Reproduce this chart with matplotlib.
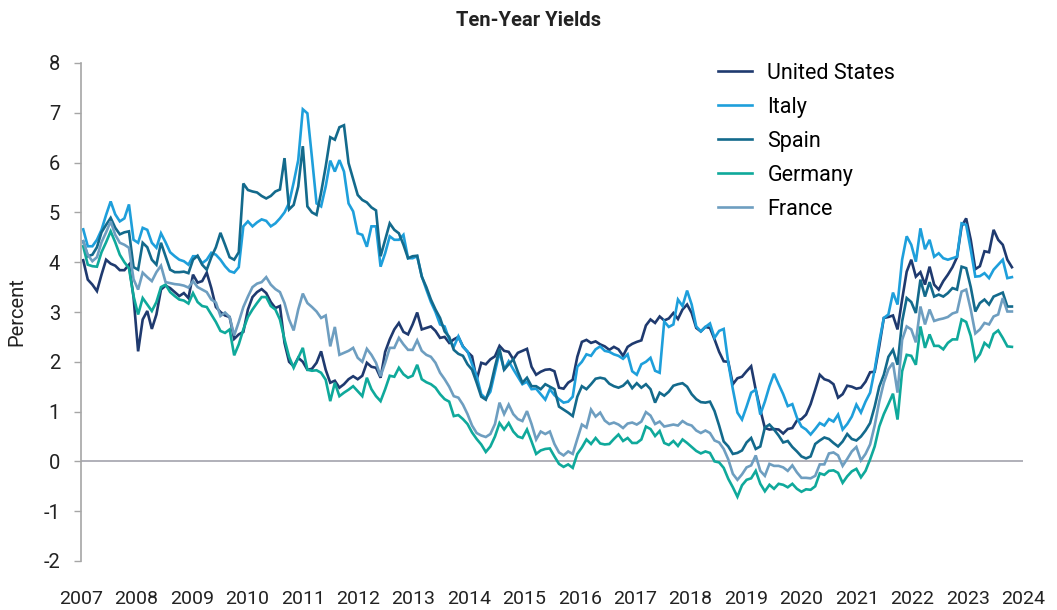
import numpy as np
import matplotlib
matplotlib.use("Agg")
import matplotlib.pyplot as plt

# monthly ten-year yields (percent)
us = [4.04, 3.65, 3.55, 3.42, 3.75, 4.05, 3.97, 3.93, 3.84, 3.84, 3.95, 3.3, 2.21, 2.85, 3.02, 2.66, 2.95, 3.45, 3.53, 3.48,
      3.4, 3.32, 3.38, 3.28, 3.75, 3.59, 3.62, 3.79, 3.48, 3.1, 3.0, 2.93, 2.9, 2.46, 2.55,
      2.6, 3.05, 3.3, 3.4, 3.46, 3.38, 3.2, 3.08, 3.12, 2.38, 2.0, 1.91, 2.08, 2.0, 1.84, 1.86, 1.98, 2.21, 1.84, 1.58,
      1.62, 1.48, 1.55, 1.65, 1.71, 1.65, 1.72, 1.98, 1.9, 1.88, 1.68, 2.2, 2.45, 2.65,
      2.78, 2.6, 2.55, 2.75, 2.99, 2.65, 2.68, 2.71, 2.62, 2.48, 2.5, 2.38, 2.45, 2.5, 2.31, 2.2, 2.11, 1.64, 1.98, 1.95,
      2.05, 2.11, 2.32, 2.22, 2.2, 2.05, 2.18, 2.22, 2.26, 1.9, 1.74, 1.8, 1.84, 1.85,
      1.81, 1.48, 1.46, 1.58, 1.64, 2.1, 2.4, 2.44, 2.38, 2.41, 2.35, 2.31, 2.24, 2.3, 2.25, 2.12, 2.3, 2.36, 2.4, 2.43,
      2.73, 2.85, 2.78, 2.91, 2.83, 2.87, 2.98, 2.86, 3.05, 3.15, 2.98, 2.68, 2.61, 2.7,
      2.68, 2.45, 2.2, 2.01, 2.0, 1.55, 1.67, 1.7, 1.81, 1.91, 1.44, 1.04, 0.67, 0.64, 0.65, 0.64, 0.56, 0.65, 0.67, 0.82,
      0.85, 0.94, 1.15, 1.44, 1.74, 1.65, 1.62, 1.55, 1.28, 1.35, 1.52, 1.5, 1.46, 1.48,
      1.6, 1.79, 1.8, 2.31, 2.88, 2.9, 2.93, 2.65, 3.25, 3.81, 4.05, 3.71, 3.8, 3.55, 3.91, 3.55, 3.45, 3.62, 3.75, 3.9,
      4.1, 4.72, 4.88, 4.45, 3.86, 3.92, 4.22, 4.2, 4.65, 4.45, 4.35, 4.05, 3.9]

italy = [4.66, 4.32, 4.32, 4.45, 4.65, 4.95, 5.22, 4.96, 4.82, 4.88, 5.16, 4.45, 4.39, 4.69, 4.65, 4.39, 4.29, 4.58, 4.4, 4.2,
         4.12, 4.05, 4.02, 3.95, 4.12, 4.12, 3.98, 4.05, 4.19, 4.15, 4.05, 3.92, 3.82, 3.79, 3.9,
         4.72, 4.82, 4.72, 4.8, 4.86, 4.83, 4.72, 4.78, 4.88, 5.0, 5.19, 5.6, 6.05, 7.07, 6.99, 6.1, 5.18, 5.12, 5.52, 6.04,
         5.82, 6.05, 5.82, 5.18, 5.02, 4.58, 4.55, 4.31, 4.72, 4.72, 3.91, 4.18, 4.52, 4.45,
         4.45, 4.55, 4.08, 4.08, 4.12, 3.72, 3.45, 3.2, 3.0, 2.75, 2.71, 2.45, 2.3, 2.51, 2.3, 2.21, 1.95, 1.71, 1.35, 1.26,
         1.4, 1.8, 2.2, 1.84, 2.01, 1.85, 1.7, 1.55, 1.6, 1.45, 1.46, 1.35, 1.24, 1.45,
         1.33, 1.25, 1.18, 1.2, 1.3, 1.9, 2.0, 2.15, 2.12, 2.25, 2.31, 2.22, 2.2, 2.15, 2.12, 2.06, 2.15, 1.81, 1.74, 1.95,
         2.0, 2.08, 1.82, 1.78, 2.81, 2.7, 2.75, 3.25, 3.12, 3.43, 3.15, 2.71, 2.61, 2.7,
         2.77, 2.48, 2.62, 2.66, 1.98, 1.45, 0.98, 0.84, 1.1, 1.38, 1.44, 0.94, 1.2, 1.51, 1.76, 1.55, 1.35, 1.11, 1.15, 0.88,
         0.7, 0.64, 0.54, 0.65, 0.77, 0.72, 0.85, 0.8, 0.94, 0.64, 0.75, 0.9, 1.14, 0.98,
         1.2, 1.38, 1.84, 2.4, 2.88, 2.95, 3.39, 3.15, 4.05, 4.52, 4.35, 4.01, 4.68, 4.26, 4.45, 4.11, 4.18, 4.08, 4.05, 4.08,
         4.11, 4.78, 4.75, 4.25, 3.71, 3.72, 3.78, 3.68, 3.85, 3.95, 4.05, 3.68, 3.7]

spain = [4.42, 4.12, 4.15, 4.3, 4.6, 4.75, 4.89, 4.69, 4.56, 4.6, 4.62, 3.9, 3.85, 4.39, 4.3, 4.05, 3.95, 4.39, 4.12, 3.85,
         3.8, 3.8, 3.81, 3.78, 4.05, 4.13, 3.95, 3.85, 4.1, 4.3, 4.59, 4.35, 4.1, 4.05, 4.2,
         5.58, 5.45, 5.42, 5.4, 5.33, 5.28, 5.33, 5.42, 5.46, 6.09, 5.06, 5.15, 5.52, 6.33, 5.12, 5.0, 4.95, 5.4, 5.92, 6.51,
         6.46, 6.71, 6.75, 5.99, 5.67, 5.35, 5.25, 5.2, 5.1, 5.04, 4.12, 4.45, 4.78, 4.65,
         4.58, 4.35, 4.08, 4.12, 4.13, 3.71, 3.5, 3.25, 3.05, 2.88, 2.61, 2.5, 2.24, 2.16, 2.12, 1.95, 1.84, 1.58, 1.3, 1.24,
         1.5, 1.9, 2.26, 1.84, 1.95, 2.05, 1.8, 1.58, 1.68, 1.51, 1.51, 1.45, 1.55, 1.5,
         1.45, 1.1, 1.04, 0.98, 0.91, 1.3, 1.51, 1.45, 1.55, 1.66, 1.68, 1.66, 1.56, 1.51, 1.48, 1.52, 1.61, 1.47, 1.57, 1.48,
         1.55, 1.45, 1.18, 1.38, 1.32, 1.4, 1.52, 1.55, 1.57, 1.5, 1.35, 1.25, 1.19, 1.18,
         1.2, 1.01, 0.72, 0.4, 0.3, 0.15, 0.17, 0.22, 0.38, 0.47, 0.25, 0.3, 0.68, 0.74, 0.64, 0.52, 0.38, 0.41, 0.29, 0.2,
         0.1, 0.06, 0.1, 0.35, 0.42, 0.48, 0.45, 0.37, 0.3, 0.4, 0.55, 0.45, 0.42, 0.5,
         0.62, 0.77, 1.1, 1.5, 1.74, 2.1, 2.24, 1.94, 2.81, 3.28, 3.2, 2.98, 3.65, 3.31, 3.6, 3.31, 3.35, 3.31, 3.38, 3.48,
         3.45, 3.91, 3.88, 3.5, 3.01, 3.18, 3.25, 3.15, 3.31, 3.35, 3.39, 3.11, 3.11]

germany = [4.32, 3.95, 3.92, 3.91, 4.2, 4.4, 4.62, 4.4, 4.15, 4.0, 3.88, 3.32, 2.95, 3.28, 3.15, 3.02, 3.2, 3.5, 3.55, 3.4,
           3.32, 3.25, 3.23, 3.17, 3.38, 3.2, 3.12, 3.1, 2.95, 2.8, 2.62, 2.58, 2.65, 2.13, 2.35,
           2.65, 2.9, 3.05, 3.18, 3.3, 3.3, 3.12, 3.05, 2.85, 2.45, 2.1, 1.88, 2.08, 2.28, 1.84, 1.82, 1.83, 1.78, 1.64, 1.21,
           1.58, 1.31, 1.38, 1.44, 1.51, 1.41, 1.31, 1.68, 1.45, 1.31, 1.21, 1.45, 1.72, 1.7,
           1.88, 1.75, 1.68, 1.72, 1.94, 1.65, 1.59, 1.55, 1.48, 1.35, 1.25, 1.2, 0.91, 0.93, 0.85, 0.75, 0.58, 0.45, 0.34, 0.19,
           0.3, 0.5, 0.77, 0.64, 0.77, 0.6, 0.5, 0.47, 0.64, 0.4, 0.15, 0.22, 0.25, 0.26,
           0.1, -0.05, -0.11, -0.06, -0.13, 0.15, 0.28, 0.44, 0.35, 0.47, 0.36, 0.34, 0.35, 0.45, 0.54, 0.41, 0.47, 0.37, 0.37, 0.44,
           0.7, 0.65, 0.51, 0.61, 0.37, 0.33, 0.41, 0.31, 0.44, 0.37, 0.29, 0.21, 0.16, 0.2,
           0.17, 0.0, -0.02, -0.13, -0.35, -0.52, -0.71, -0.48, -0.37, -0.34, -0.19, -0.45, -0.6, -0.47, -0.55, -0.45, -0.47, -0.52, -0.45, -0.55,
           -0.61, -0.56, -0.57, -0.5, -0.24, -0.27, -0.19, -0.18, -0.23, -0.43, -0.3, -0.2, -0.15, -0.32,
           -0.19, 0.04, 0.3, 0.7, 0.95, 1.15, 1.36, 0.84, 1.81, 2.14, 2.12, 1.94, 2.71, 2.28, 2.55, 2.32, 2.32, 2.25, 2.38, 2.45,
           2.45, 2.85, 2.8, 2.52, 2.03, 2.15, 2.38, 2.3, 2.56, 2.63, 2.48, 2.31, 2.3]

france = [4.42, 4.15, 4.02, 4.1, 4.4, 4.6, 4.82, 4.55, 4.39, 4.35, 4.29, 3.66, 3.45, 3.79, 3.7, 3.62, 3.8, 3.93, 3.6, 3.58,
          3.56, 3.55, 3.53, 3.49, 3.62, 3.5, 3.45, 3.4, 3.25, 3.19, 2.92, 2.99, 2.9, 2.53, 2.8,
          3.1, 3.31, 3.5, 3.57, 3.6, 3.7, 3.55, 3.46, 3.4, 3.18, 2.85, 2.63, 3.05, 3.37, 3.18, 3.1, 3.01, 2.88, 2.93, 2.31,
          2.7, 2.14, 2.18, 2.22, 2.28, 2.08, 2.0, 2.26, 2.14, 1.98, 1.71, 1.98, 2.28, 2.28,
          2.48, 2.35, 2.24, 2.24, 2.43, 2.22, 2.14, 2.1, 1.98, 1.78, 1.65, 1.5, 1.31, 1.28, 1.14, 0.95, 0.72, 0.57, 0.52, 0.49,
          0.55, 0.75, 1.18, 0.95, 1.14, 0.95, 0.85, 0.81, 1.01, 0.75, 0.44, 0.6, 0.55, 0.6,
          0.35, 0.18, 0.12, 0.2, 0.15, 0.45, 0.74, 0.68, 1.04, 0.9, 0.98, 0.82, 0.75, 0.78, 0.74, 0.67, 0.76, 0.78, 0.74, 0.8,
          0.99, 0.92, 0.75, 0.8, 0.7, 0.72, 0.74, 0.72, 0.81, 0.75, 0.72, 0.62, 0.57, 0.62,
          0.57, 0.42, 0.38, 0.25, 0.04, -0.25, -0.37, -0.26, -0.12, -0.08, 0.12, -0.19, -0.29, -0.05, -0.09, -0.09, -0.12, -0.19, -0.08, -0.22,
          -0.33, -0.33, -0.34, -0.29, -0.06, -0.06, 0.16, 0.18, 0.12, -0.09, 0.05, 0.2, 0.29, 0.02,
          0.15, 0.34, 0.72, 1.2, 1.58, 1.85, 1.98, 1.38, 2.44, 2.71, 2.65, 2.39, 3.11, 2.75, 3.05, 2.82, 2.85, 2.87, 2.9, 2.97,
          3.0, 3.41, 3.45, 3.05, 2.57, 2.65, 2.78, 2.75, 2.91, 2.95, 3.28, 3.01, 3.01]

years = list(range(2007, 2025))

series = [
    ("United States", us, "#1f3a6f"),
    ("Italy", italy, "#1e9fdb"),
    ("Spain", spain, "#136a8c"),
    ("Germany", germany, "#0fa99b"),
    ("France", france, "#6e9ec0"),
]

plt.rcParams["font.family"] = ["Roboto", "DejaVu Sans"]
plt.rcParams["axes.unicode_minus"] = False

# months placed on a fractional-year axis
months = np.arange(len(us))
x = 2007.04 + months * (16.76 / (len(us) - 1))

fig = plt.figure(figsize=(10.57, 6.10), dpi=100)
ax = fig.add_axes([81 / 1057, 1 - 561 / 610, 942 / 1057, 498 / 610])

for name, vals, col in series:
    ax.plot(x, vals, color=col, lw=1.9, label=name, solid_joinstyle="miter")

ax.axhline(0, color="#a3a3ad", lw=1.2, zorder=0)

ax.set_xlim(2007, 2024)
ax.set_ylim(-2, 8)
ax.set_yticks(range(-2, 9))
ax.set_xticks(years)
ax.set_xticklabels([str(y) for y in years])

for s in ["top", "right", "bottom"]:
    ax.spines[s].set_visible(False)
ax.spines["left"].set_color("#a6a6a6")
ax.spines["left"].set_linewidth(1.2)

ax.tick_params(axis="y", length=5, width=1, color="#a6a6a6", labelsize=14.5, pad=10, labelcolor="#222222")
ax.tick_params(axis="x", length=0, labelsize=14, pad=21, labelcolor="#222222")

ax.set_ylabel("Percent", fontsize=14.5, color="#222222", labelpad=12)

fig.text(0.5, 1 - 20 / 610, "Ten-Year Yields", ha="center", va="center",
         fontsize=14.5, fontweight="bold", color="#222222")

ax.legend(loc="upper left", bbox_to_anchor=(0.676, 1.0), frameon=False, fontsize=15.5,
          handlelength=1.6, handletextpad=0.7, labelspacing=0.6, borderpad=0, borderaxespad=0)

fig.savefig("out.png", dpi=100)
